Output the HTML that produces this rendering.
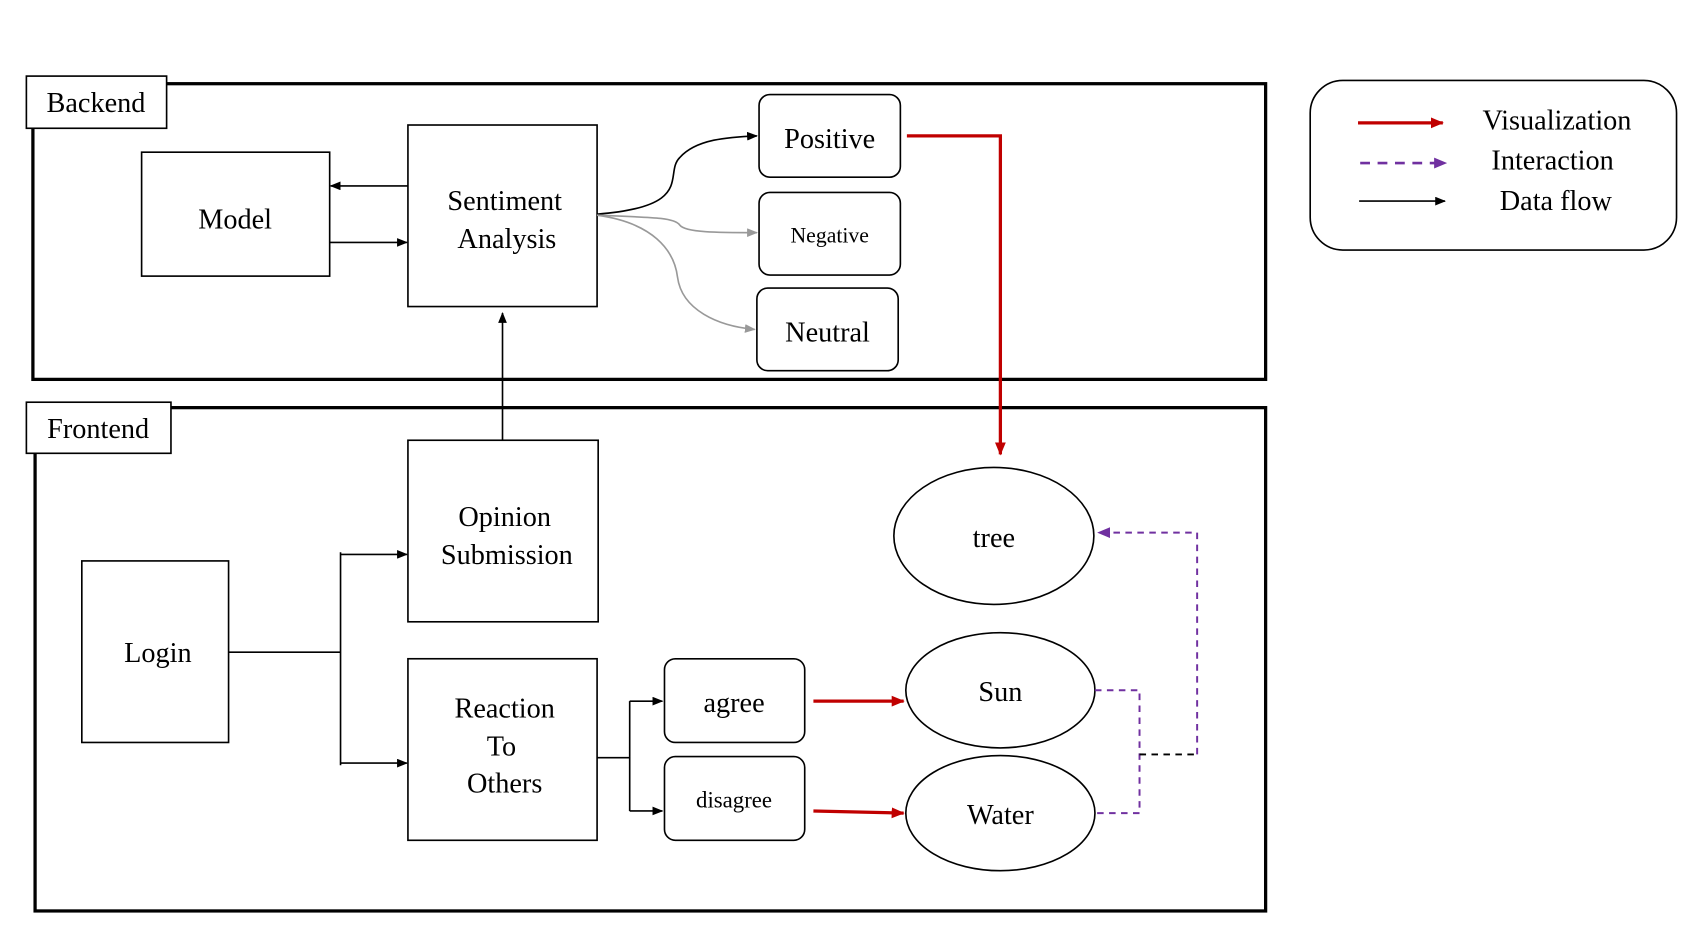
<!DOCTYPE html>
<html><head><meta charset="utf-8"><style>html,body{margin:0;padding:0;background:#fff}svg{display:block}</style></head><body>
<svg width="1704" height="949" viewBox="0 0 1567 873" xmlns="http://www.w3.org/2000/svg" font-family="Liberation Serif, serif">
<defs>
<marker id="ab" markerWidth="10" markerHeight="8" refX="9" refY="4" orient="auto" markerUnits="userSpaceOnUse"><path d="M0,0 L10,4 L0,8 z" fill="#000"/></marker>
<marker id="ag" markerWidth="10" markerHeight="8" refX="9" refY="4" orient="auto" markerUnits="userSpaceOnUse"><path d="M0,0 L10,4 L0,8 z" fill="#999"/></marker>
<marker id="ar" markerWidth="12" markerHeight="10" refX="11" refY="5" orient="auto" markerUnits="userSpaceOnUse"><path d="M0,0 L12,5 L0,10 z" fill="#c00000"/></marker>
<marker id="ap" markerWidth="12" markerHeight="10" refX="11" refY="5" orient="auto" markerUnits="userSpaceOnUse"><path d="M0,0 L12,5 L0,10 z" fill="#7030a0"/></marker>
</defs>
<rect width="1567" height="873" fill="#fff"/>
<g fill="none" stroke="#000">
<rect x="30" y="77" width="1134" height="272" stroke-width="3"/>
<rect x="32" y="375" width="1132" height="463" stroke-width="3"/>
<rect x="24" y="70" width="129" height="48" fill="#fff" stroke-width="1.5"/>
<rect x="24" y="370" width="133" height="47" fill="#fff" stroke-width="1.5"/>
<g stroke-width="1.5">
<rect x="130" y="140" width="173" height="114"/>
<rect x="375" y="115" width="174" height="167"/>
<rect x="698" y="87" width="130" height="76" rx="10"/>
<rect x="698" y="177" width="130" height="76" rx="10"/>
<rect x="696" y="265" width="130" height="76" rx="10"/>
<rect x="375" y="405" width="175" height="167"/>
<rect x="75" y="516" width="135" height="167"/>
<rect x="375" y="606" width="174" height="167"/>
<rect x="611" y="606" width="129" height="77" rx="10"/>
<rect x="611" y="696" width="129" height="77" rx="10"/>
<ellipse cx="914" cy="493" rx="92" ry="63"/>
<ellipse cx="920" cy="635" rx="87" ry="53"/>
<ellipse cx="920" cy="748" rx="87" ry="53"/>
<rect x="1205" y="74" width="337" height="156" rx="30"/>
</g>
<g stroke-width="1.5">
<path d="M375,171 H304" marker-end="url(#ab)"/>
<path d="M303,223 H374" marker-end="url(#ab)"/>
<path d="M462,405 V288" marker-end="url(#ab)"/>
<path d="M549,197 C640,190 610,160 625,145 C640,128 670,126 696,125" marker-end="url(#ab)"/>
<path d="M210,600 H313 M313,508 V704"/>
<path d="M313,510 H374" marker-end="url(#ab)"/>
<path d="M313,702 H374" marker-end="url(#ab)"/>
<path d="M549,697 H579 M579,645 V746"/>
<path d="M579,645 H609" marker-end="url(#ab)"/>
<path d="M579,746 H609" marker-end="url(#ab)"/>
<path d="M1250,185 H1329" marker-end="url(#ab)"/>
</g>
<g stroke="#999" stroke-width="1.5">
<path d="M549,198 C600,200 620,200 625,207 C630,214 660,214 696,214" marker-end="url(#ag)"/>
<path d="M549,198 C600,205 620,230 623,255 C627,285 660,300 694,303" marker-end="url(#ag)"/>
</g>
<g stroke="#c00000" stroke-width="3">
<path d="M834,125 H920 V418" marker-end="url(#ar)"/>
<path d="M748,645 H831" marker-end="url(#ar)"/>
<path d="M748,746 L831,748" marker-end="url(#ar)"/>
<path d="M1249,113 H1327" marker-end="url(#ar)"/>
</g>
<g stroke="#7030a0" stroke-width="1.8" stroke-dasharray="6,5">
<path d="M1007,635 H1048 V748 H1007"/>
<path d="M1101,694 V490 H1010" marker-end="url(#ap)"/>
<path d="M1251,150 H1330" stroke-width="2.5" stroke-dasharray="9,7" marker-end="url(#ap)"/>
</g>
<path d="M1048,694 H1101" stroke="#000" stroke-width="1.8" stroke-dasharray="6,5"/>
</g>
<g font-size="26" text-anchor="middle" fill="#000">
<text x="88" y="103">Backend</text>
<text x="90" y="403">Frontend</text>
<text x="216" y="210">Model</text>
<text x="464" y="193">Sentiment</text>
<text x="466" y="228">Analysis</text>
<text x="763" y="136">Positive</text>
<text x="763" y="223" font-size="20">Negative</text>
<text x="761" y="314">Neutral</text>
<text x="464" y="484">Opinion</text>
<text x="466" y="519">Submission</text>
<text x="145" y="609">Login</text>
<text x="464" y="660">Reaction</text>
<text x="461" y="695">To</text>
<text x="464" y="729">Others</text>
<text x="675" y="655">agree</text>
<text x="675" y="743" font-size="21">disagree</text>
<text x="914" y="503">tree</text>
<text x="920" y="645">Sun</text>
<text x="920" y="758">Water</text>
<text x="1432" y="119">Visualization</text>
<text x="1428" y="156">Interaction</text>
<text x="1431" y="193">Data flow</text>
</g>
</svg>
</body></html>
